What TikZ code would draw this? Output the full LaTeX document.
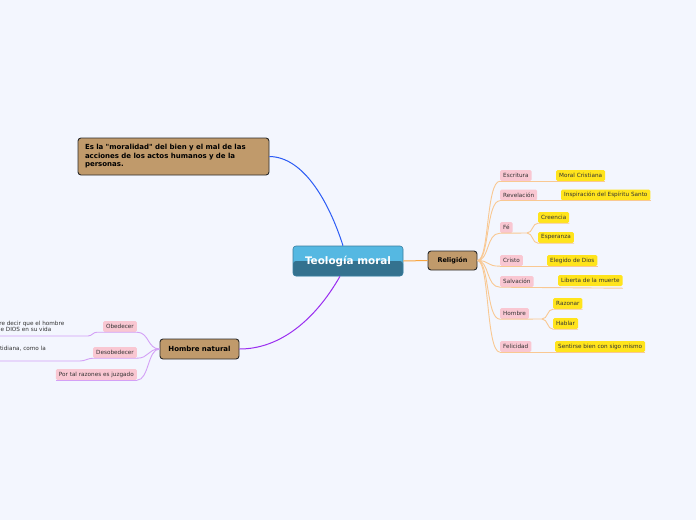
\documentclass[tikz,border=0pt]{standalone}
\usepackage{fontspec}
\setmainfont{DejaVu Sans}
\newfontfamily\plainfont{DejaVu Sans}
\definecolor{bgc}{HTML}{F3F6FE}
\definecolor{pinkc}{HTML}{F9C7D2}
\definecolor{yellowc}{HTML}{FFE41C}
\definecolor{brownc}{HTML}{C09A6B}
\definecolor{darkb}{HTML}{2B2B2B}
\definecolor{ctop}{HTML}{55B8E2}
\definecolor{cbot}{HTML}{34728F}
\definecolor{centb}{HTML}{3A7E9E}
\definecolor{bluec}{HTML}{2B5BF5}
\definecolor{purplec}{HTML}{9A2EF0}
\definecolor{orangec}{HTML}{F9A640}
\definecolor{rbr}{HTML}{F9C892}
\definecolor{pbr}{HTML}{D3A0F6}
\definecolor{txt}{HTML}{333333}
\begin{document}
\begin{tikzpicture}[x=1pt,y=-1pt,
  every node/.style={inner sep=0pt},
  smallbox/.style={rounded corners=1.5pt, font=\fontsize{5.7}{6.5}\selectfont, text=txt, inner xsep=3pt, minimum height=11pt},
  pinkbox/.style={smallbox, fill=pinkc},
  yellowbox/.style={smallbox, fill=yellowc},
  brownbox/.style={fill=brownc, draw=darkb, line width=0.9pt, rounded corners=3pt, text=black},
  leaftext/.style={font=\fontsize{5.7}{6.5}\selectfont, text=txt},
  rbranch/.style={draw=rbr, line width=0.9pt},
  pbranch/.style={draw=pbr, line width=0.9pt}]
\fill[bgc] (0,0) rectangle (696,520);
\useasboundingbox (0,0) rectangle (696,520);
\clip (0,0) rectangle (696,520);

% main nodes
\node[draw=centb, line width=0.6pt, rounded corners=3pt, minimum width=110pt, minimum height=30pt, fill=ctop,
  path picture={\fill[cbot] (path picture bounding box.west) rectangle (path picture bounding box.south east);},
  font=\bfseries\fontsize{10.4}{12}\selectfont, text=white] (c) at (348,261) {Teología moral};
\node[brownbox, minimum width=49pt, minimum height=19pt, font=\bfseries\fontsize{6.5}{8}\selectfont] (rel) at (452.5,260.5) {Religión};
\node[brownbox, minimum width=191pt, minimum height=37pt, text width=177pt, align=left,
  font=\plainfont\bfseries\fontsize{7}{8.5}\selectfont] (tl) at (173.5,156.5)
  {Es la "moralidad" del bien y el mal de las\\acciones de los actos humanos y de la\\personas.};
\node[brownbox, minimum width=79pt, minimum height=20pt, font=\bfseries\fontsize{7}{8}\selectfont] (hn) at (199.5,349) {Hombre natural};

% main connectors
\draw[bluec, line width=1pt] (tl.east) .. controls (305,157) and (330,205) .. ([xshift=-5pt]c.north);
\draw[purplec, line width=1pt] ([xshift=-8pt]c.south) .. controls (315,320) and (280,349) .. (hn.east);
\draw[orangec, line width=1pt] (c.east) -- (rel.west);

% Religion children
\node[pinkbox, anchor=west] (esc) at (500,175.5) {Escritura};
\node[pinkbox, anchor=west] (rev) at (500,195) {Revelación};
\node[pinkbox, anchor=west] (fe) at (500,227.5) {Fé};
\node[pinkbox, anchor=west] (cri) at (500,260.5) {Cristo};
\node[pinkbox, anchor=west] (sal) at (500,281.5) {Salvación};
\node[pinkbox, anchor=west] (hom) at (500,313.5) {Hombre};
\node[pinkbox, anchor=west] (fel) at (500,346.5) {Felicidad};

\node[yellowbox, anchor=west] (mor) at (556,175.5) {Moral Cristiana};
\node[yellowbox, anchor=west] (ins) at (561,195) {Inspiración del Espíritu Santo};
\node[yellowbox, anchor=west] (cre) at (538,217.5) {Creencia};
\node[yellowbox, anchor=west] (esp) at (538,237.5) {Esperanza};
\node[yellowbox, anchor=west] (ele) at (547,260.5) {Elegido de Dios};
\node[yellowbox, anchor=west] (lib) at (558,280.5) {Liberta de la muerte};
\node[yellowbox, anchor=west] (raz) at (553,303.5) {Razonar};
\node[yellowbox, anchor=west] (hab) at (553,323.5) {Hablar};
\node[yellowbox, anchor=west] (sen) at (555,346.5) {Sentirse bien con sigo mismo};

\foreach \n in {esc,rev,fe,cri,sal,hom,fel}
  \draw[rbranch] (rel.east) .. controls +(12,0) and +(-14,0) .. (\n.south west);

\draw[rbranch] (esc.south west) -- (esc.south -| mor.east);
\draw[rbranch] (rev.south west) -- (rev.south -| ins.east);
\draw[rbranch] (cri.south west) -- (cri.south -| ele.east);
\draw[rbranch] (sal.south west) -- ([yshift=-1pt]sal.south -| lib.east);
\draw[rbranch] (fel.south west) -- (fel.south -| sen.east);

\coordinate (fs) at (527,233);
\draw[rbranch] (fe.south west) -- (fs);
\draw[rbranch] (fs) .. controls +(6,0) and +(-6,0) .. (cre.south west) -- (cre.south east);
\draw[rbranch] (fs) .. controls +(6,0) and +(-6,0) .. (esp.south west) -- (esp.south east);

\coordinate (hs) at (542,319);
\draw[rbranch] (hom.south west) -- (hs);
\draw[rbranch] (hs) .. controls +(6,0) and +(-6,0) .. (raz.south west) -- (raz.south east);
\draw[rbranch] (hs) .. controls +(6,0) and +(-6,0) .. (hab.south west) -- (hab.south east);

% Hombre natural children
\node[pinkbox, anchor=east] (obe) at (137,326.5) {Obedecer};
\node[pinkbox, anchor=east] (des) at (137,352.5) {Desobedecer};
\node[pinkbox, anchor=east] (por) at (137,374.5) {Por tal razones es juzgado};

\node[leaftext, anchor=east] (l1a) at (64.5,323.5) {quiere decir que el hombre};
\node[leaftext, anchor=east] (l1b) at (51.5,329.5) {de DIOS en su vida};
\node[leaftext, anchor=east] (l2) at (46,349) {cotidiana, como la};
\coordinate (u1) at (88,336);
\coordinate (u1e) at (-5,336);
\coordinate (u2) at (80,361);
\coordinate (u2e) at (-5,361);

\foreach \n in {obe,des,por}
  \draw[pbranch] (hn.west) .. controls +(-12,0) and +(12,0) .. (\n.south east);
\draw[pbranch] (obe.south east) -- ([xshift=-6pt]obe.south west) .. controls +(-4,0) and +(4,0) .. (u1) -- (u1e);
\draw[pbranch] (des.south east) -- (des.south west) .. controls +(-5,0) and +(5,0) .. (u2) -- (u2e);
\draw[pbranch] (por.south east) -- (por.south west);
\end{tikzpicture}
\end{document}
